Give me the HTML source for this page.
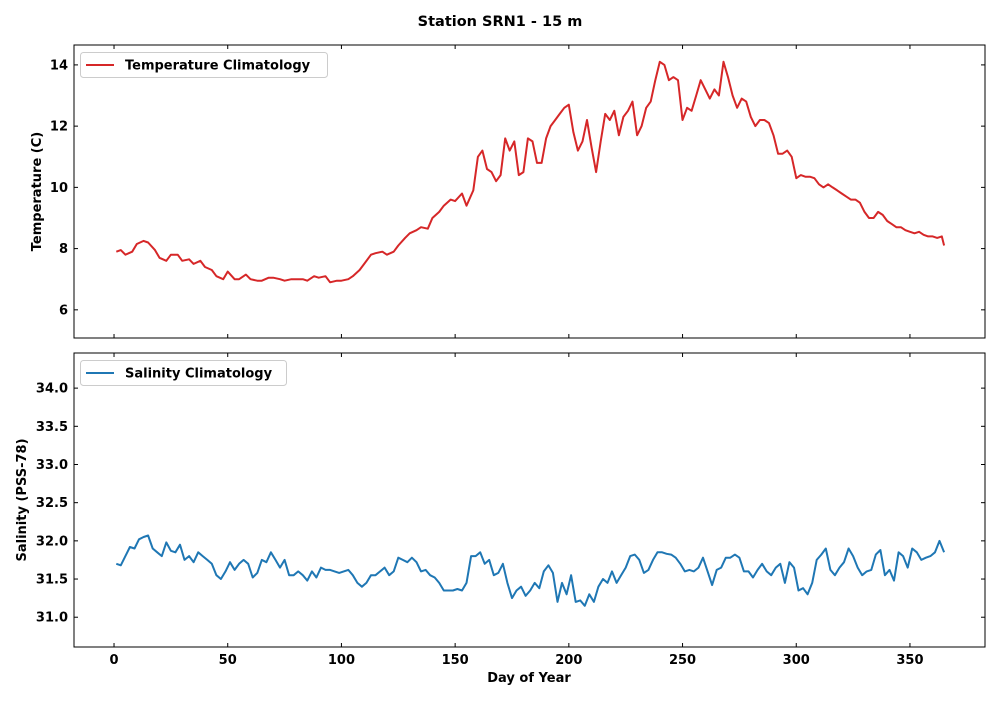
<!DOCTYPE html>
<html><head><meta charset="utf-8"><style>
body{margin:0;background:#fff;font-family:"DejaVu Sans",sans-serif;}
svg text{font-family:"DejaVu Sans","Liberation Sans",sans-serif;font-weight:bold;}
</style></head><body>
<svg id="chart" width="1000" height="700" xmlns="http://www.w3.org/2000/svg">
<text x="500" y="26" text-anchor="middle" font-size="14.5">Station SRN1 - 15 m</text>
</svg>
<script>
const tempDays=[1,3,5,8,10,13,15,18,20,23,25,28,30,33,35,38,40,43,45,48,50,53,55,58,60,63,65,68,70,73,75,78,80,83,85,88,90,93,95,98,100,103,105,108,110,113,115,118,120,123,125,128,130,133,135,138,140,143,145,148,150,153,155,158,160,162,164,166,168,170,172,174,176,178,180,182,184,186,188,190,192,194,196,198,200,202,204,206,208,210,212,214,216,218,220,222,224,226,228,230,232,234,236,238,240,242,244,246,248,250,252,254,256,258,260,262,264,266,268,270,272,274,276,278,280,282,284,286,288,290,292,294,296,298,300,302,304,306,308,310,312,314,316,318,320,322,324,326,328,330,332,334,336,338,340,342,344,346,348,350,352,354,356,358,360,362,364,365];
const tempVals=[7.9,7.95,7.8,7.9,8.15,8.25,8.2,7.95,7.7,7.6,7.8,7.8,7.6,7.65,7.5,7.6,7.4,7.3,7.1,7.0,7.25,7.0,7.0,7.15,7.0,6.95,6.95,7.05,7.05,7.0,6.95,7.0,7.0,7.0,6.95,7.1,7.05,7.1,6.9,6.95,6.95,7.0,7.1,7.3,7.5,7.8,7.85,7.9,7.8,7.9,8.1,8.35,8.5,8.6,8.7,8.65,9.0,9.2,9.4,9.6,9.55,9.8,9.4,9.9,11.0,11.2,10.6,10.5,10.2,10.4,11.6,11.2,11.5,10.4,10.5,11.6,11.5,10.8,10.8,11.6,12.0,12.2,12.4,12.6,12.7,11.8,11.2,11.5,12.2,11.3,10.5,11.5,12.4,12.2,12.5,11.7,12.3,12.5,12.8,11.7,12.0,12.6,12.8,13.5,14.1,14.0,13.5,13.6,13.5,12.2,12.6,12.5,13.0,13.5,13.2,12.9,13.2,13.0,14.1,13.6,13.0,12.6,12.9,12.8,12.3,12.0,12.2,12.2,12.1,11.7,11.1,11.1,11.2,11.0,10.3,10.4,10.35,10.35,10.3,10.1,10.0,10.1,10.0,9.9,9.8,9.7,9.6,9.6,9.5,9.2,9.0,9.0,9.2,9.1,8.9,8.8,8.7,8.7,8.6,8.55,8.5,8.55,8.45,8.4,8.4,8.35,8.4,8.1];
const salDays=[];for(let d=1;d<=365;d+=2)salDays.push(d);
const salVals=[31.7,31.68,31.8,31.92,31.9,32.02,32.05,32.07,31.9,31.85,31.8,31.98,31.87,31.85,31.95,31.75,31.8,31.72,31.85,31.8,31.75,31.7,31.55,31.5,31.6,31.72,31.62,31.7,31.75,31.7,31.52,31.58,31.75,31.72,31.85,31.75,31.65,31.75,31.55,31.55,31.6,31.55,31.48,31.6,31.52,31.65,31.62,31.62,31.6,31.58,31.6,31.62,31.55,31.45,31.4,31.45,31.55,31.55,31.6,31.65,31.55,31.6,31.78,31.75,31.72,31.78,31.72,31.6,31.62,31.55,31.52,31.45,31.35,31.35,31.35,31.37,31.35,31.45,31.8,31.8,31.85,31.7,31.75,31.55,31.58,31.7,31.45,31.25,31.35,31.4,31.28,31.35,31.45,31.38,31.6,31.68,31.58,31.2,31.45,31.3,31.55,31.2,31.22,31.15,31.3,31.2,31.4,31.5,31.45,31.6,31.45,31.55,31.65,31.8,31.82,31.75,31.58,31.62,31.75,31.85,31.85,31.83,31.82,31.78,31.7,31.6,31.62,31.6,31.65,31.78,31.6,31.42,31.62,31.65,31.78,31.78,31.82,31.78,31.6,31.6,31.52,31.62,31.7,31.6,31.55,31.65,31.7,31.45,31.72,31.65,31.35,31.38,31.3,31.45,31.75,31.82,31.9,31.62,31.55,31.65,31.72,31.9,31.8,31.65,31.55,31.6,31.62,31.82,31.88,31.55,31.62,31.48,31.85,31.8,31.65,31.9,31.85,31.75,31.78,31.8,31.85,32.0,31.85];
const xTicks=[0,50,100,150,200,250,300,350];
const tempTicks=[6,8,10,12,14];
const salTicks=[31.0,31.5,32.0,32.5,33.0,33.5,34.0];

const NS='http://www.w3.org/2000/svg';
const svg=document.getElementById('chart');
const L=74,R=985;
const xMin=-17.6,xMax=383.0;
const xs=d=>L+(d-xMin)/(xMax-xMin)*(R-L);
function mk(tag,attrs,parent){const e=document.createElementNS(NS,tag);for(const k in attrs)e.setAttribute(k,attrs[k]);(parent||svg).appendChild(e);return e;}

function panel(top,bot,yMin,yMax,ticks,fmt,days,vals,color,label,ylabel,ylx,legW,name,showX){
  const ys=v=>bot-(v-yMin)/(yMax-yMin)*(bot-top);
  const g=mk('g',{});
  
  
  let d='';
  days.forEach((dd,i)=>{d+=(i?'L':'M')+xs(dd).toFixed(1)+','+ys(vals[i]).toFixed(1);});
  const p=mk('path',{d:d,fill:'none',stroke:color,'stroke-width':2,'stroke-linejoin':'round'},g);
  
  
  const fr=mk('rect',{x:L,y:top,width:R-L,height:bot-top,fill:'none',stroke:'#000','stroke-width':1},g);
  
  
  ticks.forEach(t=>{
    const y=ys(t);
    mk('line',{x1:L,x2:L+4,y1:y,y2:y,stroke:'#000'},g);
    mk('line',{x1:R,x2:R-4,y1:y,y2:y,stroke:'#000'},g);
    const tx=mk('text',{x:L-6,y:y+4.5,'text-anchor':'end','font-size':13},g);
    tx.textContent=fmt(t);
    
    
  });
  xTicks.forEach(t=>{
    const x=xs(t);
    mk('line',{x1:x,x2:x,y1:bot,y2:bot-4,stroke:'#000'},g);
    mk('line',{x1:x,x2:x,y1:top,y2:top+4,stroke:'#000'},g);
    if(showX){
      const tx=mk('text',{x:x,y:bot+17,'text-anchor':'middle','font-size':13},g);
      tx.textContent=t;
      
      
    }
  });
  const yl=mk('text',{x:0,y:0,'text-anchor':'middle','font-size':13,transform:`translate(${ylx},${(top+bot)/2}) rotate(-90)`},g);
  yl.textContent=ylabel;
  
  
  const lg=mk('g',{},g);
  
  
  mk('rect',{x:80.5,y:top+7.5,width:legW,height:25,rx:3,fill:'#fff',stroke:'#ccc'},lg);
  mk('line',{x1:86,x2:114,y1:top+20,y2:top+20,stroke:color,'stroke-width':2},lg);
  const lt=mk('text',{x:125,y:top+24.5,'font-size':13},lg);
  lt.textContent=label;
  
  
}
panel(45,338,5.08,14.65,tempTicks,t=>String(t),tempDays,tempVals,'#d62728','Temperature Climatology','Temperature (C)',41,247,'temperature',false);
panel(353,647,30.61,34.46,salTicks,t=>t.toFixed(1),salDays,salVals,'#1f77b4','Salinity Climatology','Salinity (PSS-78)',26,206,'salinity',true);
const xl=mk('text',{x:529,y:682,'text-anchor':'middle','font-size':13});
xl.textContent='Day of Year';


</script>
</body></html>
